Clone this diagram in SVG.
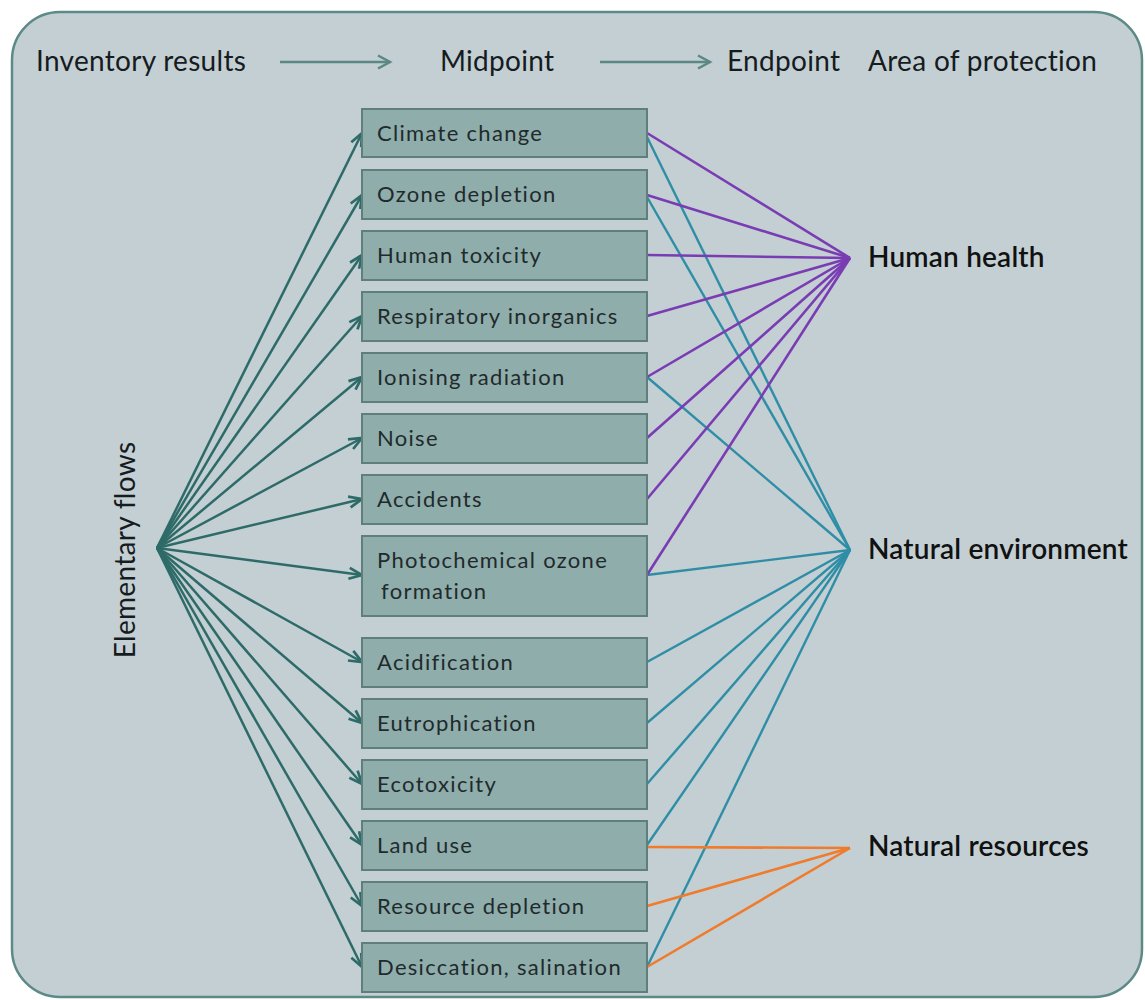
<svg xmlns="http://www.w3.org/2000/svg" width="1145" height="1000" viewBox="0 0 1145 1000">
<style>
.hdr{font-family:Lato,"Open Sans","Liberation Sans",sans-serif;font-size:28px;fill:#161b1e;letter-spacing:0.3px}
.end{font-family:Lato,"Open Sans","Liberation Sans",sans-serif;font-size:28px;fill:#111;font-weight:600;letter-spacing:0.2px}
.box rect{fill:#8fadab;stroke:#5f7f7d;stroke-width:2}
.box text{font-family:Lato,"Open Sans","Liberation Sans",sans-serif;font-size:22px;fill:#1f2a2c;letter-spacing:1.3px}
.flow{stroke:#2e6b68;stroke-width:2.5;fill:none}
.hh{stroke:#7a3cb3;stroke-width:2.6;fill:none}
.ne{stroke:#2f8ea6;stroke-width:2.4;fill:none}
.nr{stroke:#f07b2c;stroke-width:2.6;fill:none}
.top{stroke:#5b8885;stroke-width:2.5;fill:none}
</style>
<defs>
<marker id="ah" markerUnits="userSpaceOnUse" markerWidth="18" markerHeight="14" refX="15" refY="7" orient="auto">
<path d="M2,1.5 L15,7 L2,12.5" fill="none" stroke="#2e6b68" stroke-width="2.7"/>
</marker>
<marker id="ah2" markerUnits="userSpaceOnUse" markerWidth="18" markerHeight="16" refX="15" refY="8" orient="auto">
<path d="M3,1.5 L15,8 L3,14.5" fill="none" stroke="#5b8885" stroke-width="2.5"/>
</marker>
</defs>
<rect x="12" y="12" width="1130" height="985" rx="48" fill="#c3cfd3" stroke="#5e8a86" stroke-width="2.5"/>
<g id="headers">
<text class="hdr" x="36" y="71">Inventory results</text>
<text class="hdr" x="440" y="71">Midpoint</text>
<text class="hdr" x="727" y="71">Endpoint</text>
<text class="hdr" x="868" y="71">Area of protection</text>
<line class="top" x1="280" y1="62" x2="390" y2="62" marker-end="url(#ah2)"/>
<line class="top" x1="600" y1="62" x2="710" y2="62" marker-end="url(#ah2)"/>
</g>
<g id="elementary-flows">
<text class="hdr" transform="translate(135,550) rotate(-90)" text-anchor="middle">Elementary flows</text>
</g>
<g id="connectors">
<g class="flow-arrows">
<line class="flow" x1="157" y1="548" x2="362" y2="133" marker-end="url(#ah)"/>
<line class="flow" x1="157" y1="548" x2="362" y2="195" marker-end="url(#ah)"/>
<line class="flow" x1="157" y1="548" x2="362" y2="255" marker-end="url(#ah)"/>
<line class="flow" x1="157" y1="548" x2="362" y2="316" marker-end="url(#ah)"/>
<line class="flow" x1="157" y1="548" x2="362" y2="377" marker-end="url(#ah)"/>
<line class="flow" x1="157" y1="548" x2="362" y2="438" marker-end="url(#ah)"/>
<line class="flow" x1="157" y1="548" x2="362" y2="499" marker-end="url(#ah)"/>
<line class="flow" x1="157" y1="548" x2="362" y2="575" marker-end="url(#ah)"/>
<line class="flow" x1="157" y1="548" x2="362" y2="662" marker-end="url(#ah)"/>
<line class="flow" x1="157" y1="548" x2="362" y2="723" marker-end="url(#ah)"/>
<line class="flow" x1="157" y1="548" x2="362" y2="784" marker-end="url(#ah)"/>
<line class="flow" x1="157" y1="548" x2="362" y2="845" marker-end="url(#ah)"/>
<line class="flow" x1="157" y1="548" x2="362" y2="906" marker-end="url(#ah)"/>
<line class="flow" x1="157" y1="548" x2="362" y2="967" marker-end="url(#ah)"/>
</g>
<g class="to-natural-environment">
<line class="ne" x1="647" y1="137" x2="850" y2="550"/>
<line class="ne" x1="647" y1="197" x2="850" y2="550"/>
<line class="ne" x1="647" y1="377" x2="850" y2="550"/>
<line class="ne" x1="647" y1="575" x2="850" y2="550"/>
<line class="ne" x1="647" y1="662" x2="850" y2="550"/>
<line class="ne" x1="647" y1="723" x2="850" y2="550"/>
<line class="ne" x1="647" y1="784" x2="850" y2="550"/>
<line class="ne" x1="647" y1="845" x2="850" y2="550"/>
<line class="ne" x1="647" y1="967" x2="850" y2="550"/>
</g>
<g class="to-human-health">
<line class="hh" x1="647" y1="133" x2="850" y2="258"/>
<line class="hh" x1="647" y1="195" x2="850" y2="258"/>
<line class="hh" x1="647" y1="255" x2="850" y2="258"/>
<line class="hh" x1="647" y1="316" x2="850" y2="258"/>
<line class="hh" x1="647" y1="377" x2="850" y2="258"/>
<line class="hh" x1="647" y1="438" x2="850" y2="258"/>
<line class="hh" x1="647" y1="499" x2="850" y2="258"/>
<line class="hh" x1="647" y1="575" x2="850" y2="258"/>
</g>
<g class="to-natural-resources">
<line class="nr" x1="647" y1="847" x2="850" y2="848"/>
<line class="nr" x1="647" y1="906" x2="850" y2="848"/>
<line class="nr" x1="647" y1="967" x2="850" y2="848"/>
</g>
</g>
<g id="n-climate" class="box"><rect x="362" y="109" width="285" height="48"/><text x="377" y="141">Climate change</text></g>
<g id="n-ozone" class="box"><rect x="362" y="170" width="285" height="49"/><text x="377" y="202">Ozone depletion</text></g>
<g id="n-humantox" class="box"><rect x="362" y="231" width="285" height="49"/><text x="377" y="263">Human toxicity</text></g>
<g id="n-respiratory" class="box"><rect x="362" y="292" width="285" height="49"/><text x="377" y="324">Respiratory inorganics</text></g>
<g id="n-ionising" class="box"><rect x="362" y="353" width="285" height="49"/><text x="377" y="385">Ionising radiation</text></g>
<g id="n-noise" class="box"><rect x="362" y="414" width="285" height="49"/><text x="377" y="446">Noise</text></g>
<g id="n-accidents" class="box"><rect x="362" y="475" width="285" height="49"/><text x="377" y="507">Accidents</text></g>
<g id="n-photochem" class="box"><rect x="362" y="536" width="285" height="80"/><text x="377" y="568">Photochemical ozone</text><text x="381" y="599">formation</text></g>
<g id="n-acid" class="box"><rect x="362" y="638" width="285" height="49"/><text x="377" y="670">Acidification</text></g>
<g id="n-eutro" class="box"><rect x="362" y="699" width="285" height="49"/><text x="377" y="731">Eutrophication</text></g>
<g id="n-ecotox" class="box"><rect x="362" y="760" width="285" height="49"/><text x="377" y="792">Ecotoxicity</text></g>
<g id="n-landuse" class="box"><rect x="362" y="821" width="285" height="49"/><text x="377" y="853">Land use</text></g>
<g id="n-resource" class="box"><rect x="362" y="882" width="285" height="49"/><text x="377" y="914">Resource depletion</text></g>
<g id="n-desiccation" class="box"><rect x="362" y="943" width="285" height="49"/><text x="377" y="975">Desiccation, salination</text></g>
<g id="n-human-health"><text class="end" x="868" y="267">Human health</text></g>
<g id="n-natural-environment"><text class="end" x="868" y="559">Natural environment</text></g>
<g id="n-natural-resources"><text class="end" x="868" y="856">Natural resources</text></g>
</svg>
